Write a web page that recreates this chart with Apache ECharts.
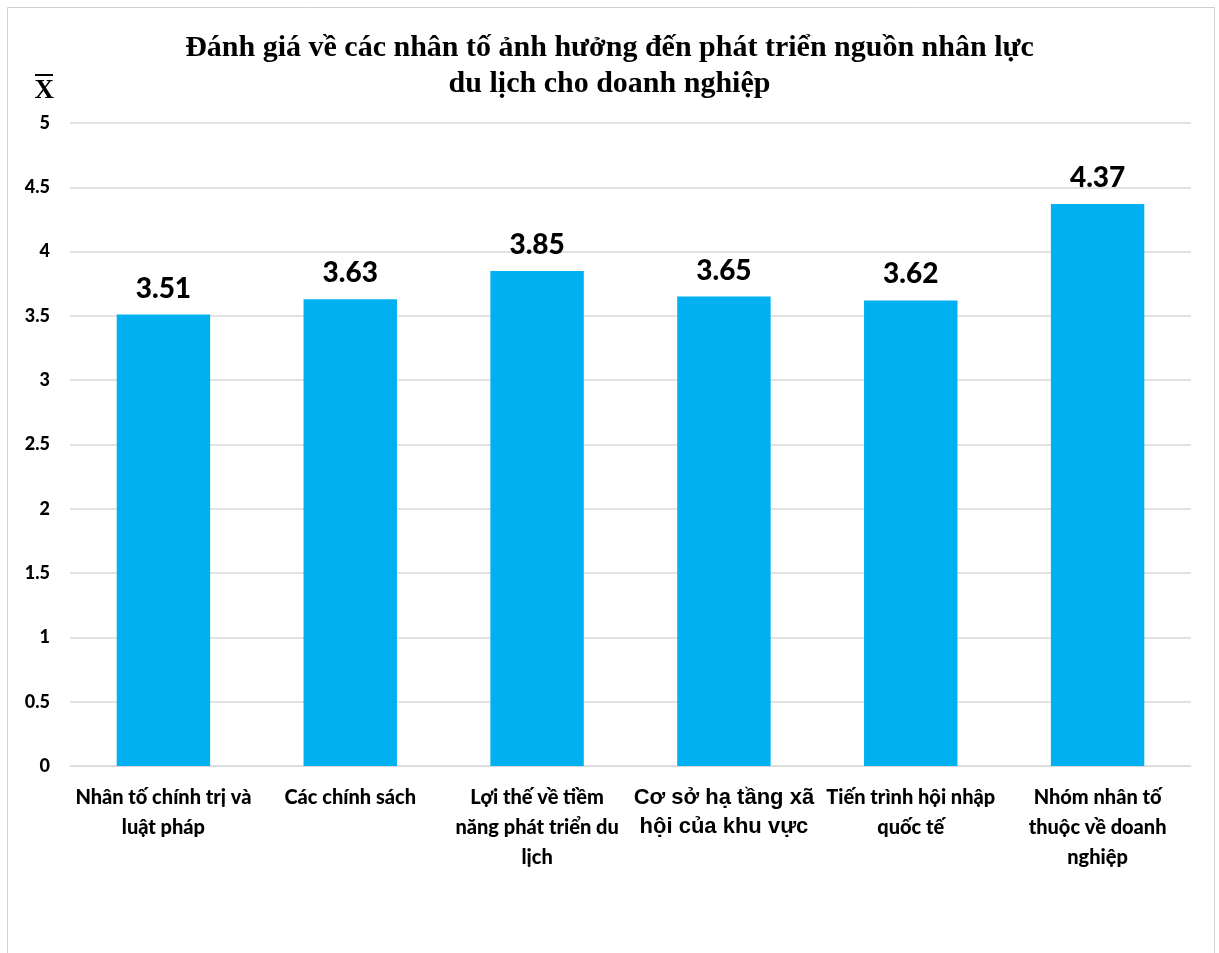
<!DOCTYPE html>
<html><head><meta charset="utf-8">
<script src="https://cdn.jsdelivr.net/npm/echarts@6/dist/echarts.min.js"></script>
<style>html,body{margin:0;padding:0;background:#fff}#c{width:1219px;height:953px}</style>
</head><body><div id="c"></div>
<script>
const categories = [
  "Nhân tố chính trị và\nluật pháp",
  "Các chính sách",
  "Lợi thế về tiềm\nnăng phát triển du\nlịch",
  "Cơ sở hạ tầng xã\nhội của khu vực",
  "Tiến trình hội nhập\nquốc tế",
  "Nhóm nhân tố\nthuộc về doanh\nnghiệp"
];
const values = [3.51, 3.63, 3.85, 3.65, 3.62, 4.37];
const titleText = "Đánh giá về các nhân tố ảnh hưởng đến phát triển nguồn nhân lực\ndu lịch cho doanh nghiệp";
const yName = "X";

const chart = echarts.init(document.getElementById('c'));
chart.setOption({
  backgroundColor: '#fff',
  animation: false,
  graphic: [{
    type: 'rect', left: 5, top: 5, shape: {width: 1207, height: 960},
    style: {fill: 'none', stroke: '#d0d0d0', lineWidth: 1}
  }, {
    type: 'rect', left: 35, top: 74, shape: {width: 18, height: 2}, style: {fill: '#000'}
  }],
  title: {
    text: titleText, left: 'center', top: 25,
    textStyle: {fontFamily: 'Liberation Serif', fontWeight: 'bold', fontSize: 30, lineHeight: 36, color: '#000'}
  },
  grid: {left: 70, right: 28, top: 123, bottom: 187, containLabel: false},
  xAxis: {
    type: 'category', data: categories,
    axisLine: {show: true, lineStyle: {color: '#d9d9d9'}},
    axisTick: {show: false},
    axisLabel: {
      interval: 0, margin: 17, color: '#000',
      fontFamily: 'Lato', fontWeight: 900, fontSize: 20, lineHeight: 30,
      formatter: function (v, i) { return i === 3 ? '{b|' + v.split('\n').join('}\n{b|') + '}' : v; },
      rich: {b: {fontFamily: 'Liberation Sans', fontWeight: 'bold', fontSize: 22, lineHeight: 29, color: '#000'}}
    }
  },
  yAxis: {
    type: 'value', min: 0, max: 5, interval: 0.5,
    name: yName, nameLocation: 'end', nameGap: 18,
    nameTextStyle: {fontFamily: 'Liberation Serif', fontWeight: 'bold', fontSize: 27, color: '#000', align: 'right', padding: [0, 16, 0, 0]},
    axisLine: {show: false}, axisTick: {show: false},
    axisLabel: {color: '#000', fontFamily: 'Lato', fontWeight: 900, fontSize: 18, margin: 20},
    splitLine: {lineStyle: {color: '#d9d9d9', width: 1.5}}
  },
  series: [{
    type: 'bar', data: values, barWidth: '50%',
    itemStyle: {color: '#00B0F0'},
    label: {show: true, position: 'top', distance: 12, color: '#000',
      fontFamily: 'Lato', fontWeight: 900, fontSize: 28,
      formatter: function (p) { return p.value.toFixed(2); }}
  }]
});
</script></body></html>
